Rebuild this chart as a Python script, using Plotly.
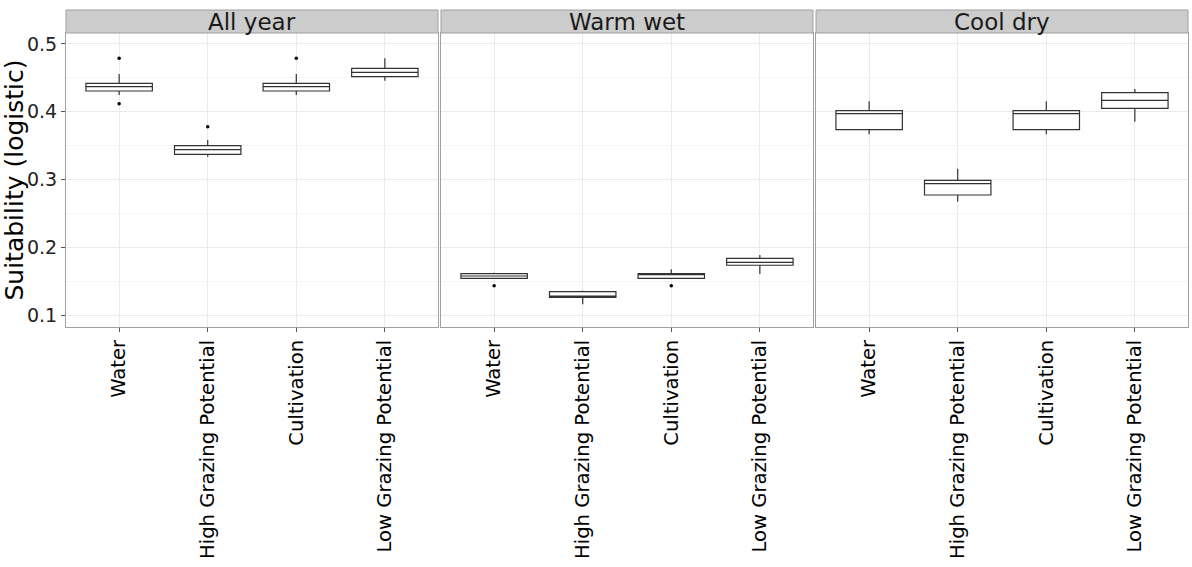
import plotly.graph_objects as go

# Land-cover classes and seasonal panels
classes = ["Water", "High Grazing Potential", "Cultivation", "Low Grazing Potential"]
seasons = ["All year", "Warm wet", "Cool dry"]

# Box summaries per season: [Water, High Grazing, Cultivation, Low Grazing]
lower_fence = {
    "All year": [0.4247, 0.3337, 0.4247, 0.4458],
    "Warm wet": [0.1535, 0.1158, 0.1540, 0.1605],
    "Cool dry": [0.3667, 0.2672, 0.3667, 0.3853],
}
q1 = {
    "All year": [0.4306, 0.3372, 0.4306, 0.4517],
    "Warm wet": [0.1541, 0.1261, 0.1540, 0.1734],
    "Cool dry": [0.3735, 0.2771, 0.3735, 0.4051],
}
median = {
    "All year": [0.4370, 0.3440, 0.4370, 0.4582],
    "Warm wet": [0.1576, 0.1280, 0.1595, 0.1778],
    "Cool dry": [0.3972, 0.2938, 0.3972, 0.4169],
}
q3 = {
    "All year": [0.4420, 0.3500, 0.4420, 0.4641],
    "Warm wet": [0.1610, 0.1344, 0.1610, 0.1837],
    "Cool dry": [0.4016, 0.2988, 0.4016, 0.4281],
}
upper_fence = {
    "All year": [0.4557, 0.3583, 0.4557, 0.4790],
    "Warm wet": [0.1625, 0.1359, 0.1675, 0.1886],
    "Cool dry": [0.4154, 0.3160, 0.4154, 0.4336],
}
# Outlying points (class, value)
outliers = {
    "All year": [("Water", 0.479), ("Water", 0.4119),
                 ("High Grazing Potential", 0.378), ("Cultivation", 0.479)],
    "Warm wet": [("Water", 0.1433), ("Cultivation", 0.1433)],
    "Cool dry": [],
}

FONT = "DejaVu Sans"
W, H = 1192, 567
ML, MR, MT, MB = 66, 4, 10, 240
pw = W - ML - MR
ph = H - MT - MB
panel_px = 372
gap_px = 3
strip_px = 23
Y_RANGE = [0.0823, 0.5162]
Y_TICKS = [0.1, 0.2, 0.3, 0.4, 0.5]

fig = go.Figure()
shapes = []
annotations = []
for i, s in enumerate(seasons):
    xa = "x" if i == 0 else f"x{i+1}"
    ya = "y" if i == 0 else f"y{i+1}"
    fig.add_trace(go.Box(
        x=classes, q1=q1[s], median=median[s], q3=q3[s],
        lowerfence=lower_fence[s], upperfence=upper_fence[s],
        xaxis=xa, yaxis=ya, boxpoints=False,
        fillcolor="white", line=dict(color="#333333", width=1.2),
        whiskerwidth=0, showlegend=False, hoverinfo="skip",
    ))
    if outliers[s]:
        fig.add_trace(go.Scatter(
            x=[c for c, _ in outliers[s]], y=[v for _, v in outliers[s]],
            xaxis=xa, yaxis=ya, mode="markers",
            marker=dict(color="black", size=3.5), showlegend=False,
            hoverinfo="skip",
        ))
    x0 = (i * (panel_px + gap_px)) / pw
    x1 = min((i * (panel_px + gap_px) + panel_px) / pw, 1)
    key = "xaxis" if i == 0 else f"xaxis{i+1}"
    fig.layout[key] = dict(
        domain=[x0, x1], anchor=ya, range=[-0.6, 3.6], automargin=False,
        categoryorder="array", categoryarray=classes,
        tickangle=-90, tickfont=dict(family=FONT, size=19.6, color="black"),
        ticks="outside", ticklen=4, tickcolor="#555555",
        showgrid=True, gridcolor="#EBEBEB", gridwidth=1,
        showline=True, linecolor="#A0A0A0", linewidth=1, mirror=True,
        zeroline=False,
    )
    ykey = "yaxis" if i == 0 else f"yaxis{i+1}"
    fig.layout[ykey] = dict(
        domain=[0, (ph - strip_px) / ph], range=Y_RANGE, anchor=xa,
        automargin=False,
        tickvals=Y_TICKS, ticktext=[f"{t:.1f}" for t in Y_TICKS],
        showticklabels=(i == 0),
        tickfont=dict(family=FONT, size=19, color="#222222"),
        ticks="outside" if i == 0 else "", ticklen=4, tickcolor="#555555",
        showgrid=True, gridcolor="#EBEBEB", gridwidth=1,
        minor=dict(dtick=0.05, tick0=0.05, showgrid=True, gridcolor="#F5F5F5"),
        showline=True, linecolor="#A0A0A0", linewidth=1, mirror=True,
        zeroline=False,
    )
    # facet strip
    shapes.append(dict(
        type="rect", xref="paper", yref="paper",
        x0=x0, x1=x1, y0=(ph - strip_px) / ph, y1=1,
        fillcolor="#CCCCCC", line=dict(color="#A0A0A0", width=1),
    ))
    annotations.append(dict(
        text=s, xref="paper", yref="paper", x=(x0 + x1) / 2,
        y=(ph - strip_px / 2) / ph, showarrow=False,
        font=dict(family=FONT, size=23, color="#1a1a1a"),
        xanchor="center", yanchor="middle",
    ))

fig.layout.yaxis.title = dict(
    text="Suitability (logistic)",
    font=dict(family=FONT, size=25, color="black"), standoff=4,
)

fig.update_layout(
    width=W, height=H,
    margin=dict(l=ML, r=MR, t=MT, b=MB),
    paper_bgcolor="white", plot_bgcolor="white",
    boxgap=0.25, boxgroupgap=0,
    shapes=shapes, annotations=annotations,
)

fig.write_html("out.html")
